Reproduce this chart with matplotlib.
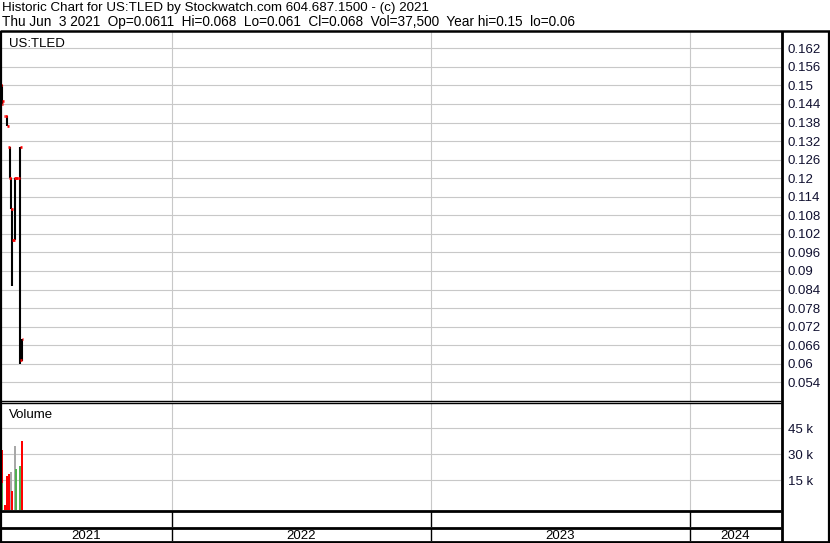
import numpy as np
import pandas as pd
import matplotlib
matplotlib.use("Agg")
import matplotlib.pyplot as plt
import matplotlib.dates as mdates

plt.rcParams["font.family"] = ["Liberation Sans", "DejaVu Sans"]

# daily trades, May - Jun 2021
dates = ["2021-05-04", "2021-05-06", "2021-05-07", "2021-05-11", "2021-05-14", "2021-05-17",
         "2021-05-19", "2021-05-21", "2021-05-25", "2021-05-26", "2021-06-01", "2021-06-03"]
opens = [0.15, 0.15, 0.144, 0.14, 0.14, 0.13, 0.12, 0.11, 0.10, 0.12, 0.12, 0.0611]
highs = [0.15, 0.15, 0.145, 0.14, 0.14, 0.13, 0.12, 0.11, 0.12, 0.12, 0.13, 0.068]
lows = [0.143, 0.144, 0.144, 0.14, 0.137, 0.12, 0.11, 0.085, 0.10, 0.12, 0.06, 0.061]
closes = [0.15, 0.144, 0.145, 0.14, 0.137, 0.12, 0.11, 0.10, 0.12, 0.12, 0.13, 0.068]
volumes = [27000, 32600, 13400, 1000, 17400, 18500, 20000, 8700, 35000, 21500, 23000, 37500]
vol_colors = ["#a8a8a8", "#ff0000", "#50b050", "#ff0000", "#ff0000", "#ff0000",
              "#a8a8a8", "#ff0000", "#a8a8a8", "#50b050", "#50b050", "#ff0000"]

price_ticks = [0.054, 0.06, 0.066, 0.072, 0.078, 0.084, 0.09, 0.096, 0.102, 0.108, 0.114,
               0.12, 0.126, 0.132, 0.138, 0.144, 0.15, 0.156, 0.162]
price_labels = ["0.054", "0.06", "0.066", "0.072", "0.078", "0.084", "0.09", "0.096", "0.102",
                "0.108", "0.114", "0.12", "0.126", "0.132", "0.138", "0.144", "0.15", "0.156", "0.162"]
vol_ticks = [15000, 30000, 45000]
vol_labels = ["15 k", "30 k", "45 k"]
years = [2021, 2022, 2023, 2024]

header1 = "Historic Chart for US:TLED by Stockwatch.com 604.687.1500 - (c) 2021"
header2 = "Thu Jun  3 2021  Op=0.0611  Hi=0.068  Lo=0.061  Cl=0.068  Vol=37,500  Year hi=0.15  lo=0.06"

W, H = 830, 543
fig = plt.figure(figsize=(W / 100, H / 100), dpi=100)


def px_axes(x0, y0, x1, y1):
    return fig.add_axes([x0 / W, 1 - y1 / H, (x1 - x0) / W, (y1 - y0) / H])


x = mdates.date2num(pd.to_datetime(dates))
jan1 = mdates.date2num(pd.Timestamp("2021-01-01"))
px_day = 259 / 365
xlim = (jan1 + 87 / px_day, jan1 + 868 / px_day)
bounds = [mdates.date2num(pd.Timestamp(f"{y}-01-01")) for y in years[1:]]

ax_p = px_axes(0, 31, 781, 401)
ax_v = px_axes(0, 403, 781, 510)
ax_blank = px_axes(0, 511, 781, 527)
ax_year = px_axes(0, 528, 781, 541)

grid_c = "#c8c8c8"

# price panel
ax_p.set_xlim(*xlim)
ax_p.set_ylim(0.04795, 0.16759)
for t in price_ticks:
    ax_p.axhline(t, color=grid_c, lw=0.8, zorder=0)
for b in bounds:
    ax_p.axvline(b, color=grid_c, lw=0.8, zorder=0)
ax_p.vlines(x, lows, highs, color="black", lw=1.5, zorder=3)
ax_p.hlines(opens, x - 2.4, x, color="#ff0000", lw=1.9, zorder=4)
ax_p.hlines(closes, x, x + 2.4, color="#ff0000", lw=1.9, zorder=4)
ax_p.set_yticks(price_ticks)
ax_p.set_yticklabels(price_labels)
ax_p.yaxis.tick_right()
ax_p.tick_params(axis="y", length=0, pad=5, labelsize=9.5, labelcolor="#101030")
ax_p.set_xticks([])
ax_p.text(0.012, 0.965, "US:TLED", transform=ax_p.transAxes, fontsize=9.5, va="center")

# volume panel
vlow = -2135
ax_v.set_xlim(*xlim)
ax_v.set_ylim(vlow, 59596)
for t in vol_ticks:
    ax_v.axhline(t, color=grid_c, lw=0.8, zorder=0)
for b in bounds:
    ax_v.axvline(b, color=grid_c, lw=0.8, zorder=0)
ax_v.bar(x, np.array(volumes) - vlow, bottom=vlow, width=3.0, color=vol_colors, zorder=3)
ax_v.set_yticks(vol_ticks)
ax_v.set_yticklabels(vol_labels)
ax_v.yaxis.tick_right()
ax_v.tick_params(axis="y", length=0, pad=5, labelsize=9.5, labelcolor="#101030")
ax_v.set_xticks([])
ax_v.text(0.012, 0.89, "Volume", transform=ax_v.transAxes, fontsize=9.5, va="center")

# bottom rows
for a in (ax_blank, ax_year):
    a.set_xlim(*xlim)
    a.set_ylim(0, 1)
    a.set_xticks([])
    a.set_yticks([])
    for b in bounds:
        a.axvline(b, color="black", lw=1)
edges = [xlim[0]] + bounds + [xlim[1]]
for i, y in enumerate(years):
    ax_year.text((edges[i] + edges[i + 1]) / 2, 0.4, str(y), ha="center", va="center",
                 fontsize=9.5)

for a in (ax_p, ax_v, ax_blank, ax_year):
    for s in a.spines.values():
        s.set_visible(False)

# frame lines and header
ov = fig.add_axes([0, 0, 1, 1], zorder=10)
ov.set_xlim(0, W)
ov.set_ylim(H, 0)
ov.axis("off")
ov.patch.set_alpha(0)
k = dict(color="black", solid_capstyle="butt")
ov.plot([0, W], [31, 31], lw=1.8, **k)
ov.plot([0, 781], [400.5, 400.5], lw=1, **k)
ov.plot([0, 781], [403, 403], lw=1, **k)
ov.plot([0, 781], [510.5, 510.5], lw=2, **k)
ov.plot([0, 781], [527.5, 527.5], lw=2, **k)
ov.plot([0, W], [541.5, 541.5], lw=2, **k)
ov.plot([781.5, 781.5], [31, H], lw=2, **k)
ov.plot([0.8, 0.8], [31, H], lw=1.6, **k)
ov.plot([829, 829], [31, H], lw=1.6, **k)
ov.text(2, 8, header1, fontsize=9.6, va="center")
ov.text(2, 22, header2, fontsize=9.8, va="center")

fig.savefig("out.png", dpi=100)
